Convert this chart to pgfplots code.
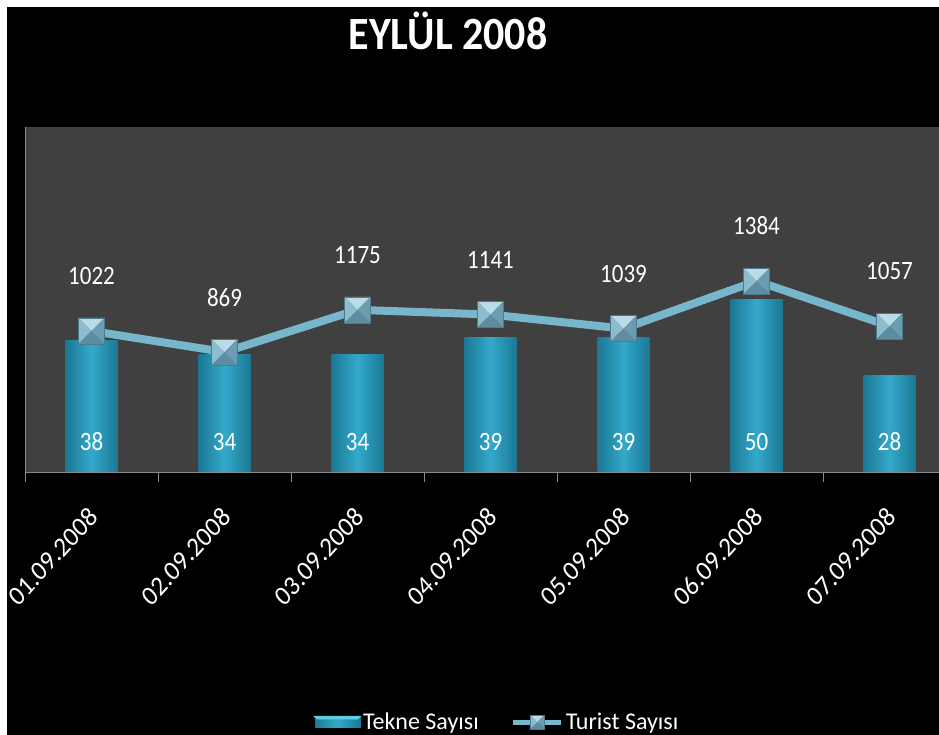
\documentclass[border=0pt]{standalone}
\usepackage{pgfplots}
\pgfplotsset{compat=1.18}
\usepackage{fontspec}
\setmainfont{Carlito}

\definecolor{plotbg}{HTML}{404040}
\definecolor{axisgray}{HTML}{8A8A8A}
\definecolor{barEdge}{HTML}{1B7894}
\definecolor{barMid}{HTML}{33A9CB}
\definecolor{barTop}{HTML}{5FCBE4}
\definecolor{lineC}{HTML}{78B6CB}
\definecolor{mkTop}{HTML}{B8DCE8}
\definecolor{mkLeft}{HTML}{8DBCCD}
\definecolor{mkRight}{HTML}{6C9CB0}
\definecolor{mkBottom}{HTML}{5E8DA2}
\definecolor{mkEdge}{HTML}{4E7A8C}

% square marker split into four shaded triangles
\pgfdeclareplotmark{bowsq}{%
  \pgfsetlinewidth{0.6pt}%
  \pgfpathmoveto{\pgfqpoint{-\pgfplotmarksize}{\pgfplotmarksize}}%
  \pgfpathlineto{\pgfqpoint{\pgfplotmarksize}{\pgfplotmarksize}}%
  \pgfpathlineto{\pgfpointorigin}\pgfpathclose
  \pgfsetfillcolor{mkTop}\pgfusepath{fill}%
  \pgfpathmoveto{\pgfqpoint{-\pgfplotmarksize}{\pgfplotmarksize}}%
  \pgfpathlineto{\pgfqpoint{-\pgfplotmarksize}{-\pgfplotmarksize}}%
  \pgfpathlineto{\pgfpointorigin}\pgfpathclose
  \pgfsetfillcolor{mkLeft}\pgfusepath{fill}%
  \pgfpathmoveto{\pgfqpoint{\pgfplotmarksize}{\pgfplotmarksize}}%
  \pgfpathlineto{\pgfqpoint{\pgfplotmarksize}{-\pgfplotmarksize}}%
  \pgfpathlineto{\pgfpointorigin}\pgfpathclose
  \pgfsetfillcolor{mkRight}\pgfusepath{fill}%
  \pgfpathmoveto{\pgfqpoint{-\pgfplotmarksize}{-\pgfplotmarksize}}%
  \pgfpathlineto{\pgfqpoint{\pgfplotmarksize}{-\pgfplotmarksize}}%
  \pgfpathlineto{\pgfpointorigin}\pgfpathclose
  \pgfsetfillcolor{mkBottom}\pgfusepath{fill}%
  \pgfsetstrokecolor{mkEdge}%
  \pgfpathrectangle{\pgfqpoint{-\pgfplotmarksize}{-\pgfplotmarksize}}{\pgfqpoint{2\pgfplotmarksize}{2\pgfplotmarksize}}%
  \pgfusepath{stroke}%
}

\pgfplotsset{
  boatbar/.style={ybar, bar width=52pt, draw=none,
    left color=barEdge, right color=barEdge, middle color=barMid,
    visualization depends on={rawy \as \rawy},
    nodes near coords,
    nodes near coords style={anchor=center, text=white,
      font=\fontsize{23}{26}\selectfont,
      yshift={(30-3.45*\rawy)*1pt}, yscale=1.15}},
}

\begin{document}
\begin{tikzpicture}[x=1pt,y=1pt]
\useasboundingbox (0,0) rectangle (939,735);
\fill[white] (0,0) rectangle (939,735);
\fill[black] (7,0) rectangle (939,728);
\clip (0,0) rectangle (939,735);

\node[text=white, font=\bfseries\fontsize{42}{50}\selectfont, yscale=1.1] at (448,704) {EYLÜL 2008};

% boats per day (bars), one bar per day so each gets its own shading
\begin{axis}[
  at={(25pt,263pt)}, anchor=south west,
  scale only axis, width=931pt, height=345pt,
  xmin=-0.5, xmax=6.5, ymin=0, ymax=100,
  axis background/.style={fill=plotbg},
  axis x line*=bottom, axis y line*=left,
  axis line style={draw=axisgray, line width=0.8pt},
  ytick=\empty,
  xtick={0,...,6},
  xticklabels={01.09.2008,02.09.2008,03.09.2008,04.09.2008,05.09.2008,06.09.2008,07.09.2008},
  major x tick style={draw=none},
  minor xtick={-0.5,0.5,...,6.5},
  tick align=outside, minor tick length=10pt,
  minor x tick style={draw=axisgray, line width=0.8pt},
  xticklabel style={anchor=east, text=white,
    font=\fontsize{25}{28}\selectfont, xshift=4pt, yshift=-33pt,
    yscale=1.1, rotate=45},
  /pgf/number format/.cd, 1000 sep={}, assume math mode=true,
]
\addplot[boatbar] coordinates {(0,38)};
\addplot[boatbar] coordinates {(1,34)};
\addplot[boatbar] coordinates {(2,34)};
\addplot[boatbar] coordinates {(3,39)};
\addplot[boatbar] coordinates {(4,39)};
\addplot[boatbar] coordinates {(5,50)};
\addplot[boatbar] coordinates {(6,28)};
\end{axis}

% tourists per day (line)
\begin{axis}[
  at={(25pt,263pt)}, anchor=south west,
  scale only axis, width=931pt, height=345pt,
  xmin=-0.5, xmax=6.5, ymin=0, ymax=2500,
  hide axis,
  /pgf/number format/.cd, 1000 sep={}, assume math mode=true,
  /pgfplots/.cd,
  legend style={at={(0.507,-0.725)}, anchor=center, draw=none, fill=none,
    text=white, font=\fontsize{24}{27}\selectfont,
    /tikz/every even column/.append style={column sep=30pt}},
  legend columns=2, legend cell align=left,
]
\addlegendimage{legend image code/.code={
  \shade[left color=barEdge, right color=barEdge, middle color=barMid]
    (0pt,-6pt) rectangle (47pt,6pt);
  \fill[barTop] (0pt,6pt) -- (47pt,6pt) -- (44pt,3pt) -- (3pt,3pt) -- cycle;}}
\addlegendentry{Tekne Sayısı}
\addplot[lineC, line width=8pt, mark=bowsq, mark size=13pt,
  nodes near coords,
  nodes near coords style={anchor=center, text=white,
    font=\fontsize{23}{26}\selectfont, yshift=55pt, yscale=1.15},
  legend image code/.code={
    \draw[lineC, line width=5pt] (0pt,0pt) -- (48pt,0pt);
    \begin{scope}[shift={(24pt,0pt)}, mark size=7pt]\pgfuseplotmark{bowsq}\end{scope}},
] coordinates {(0,1022) (1,869) (2,1175) (3,1141) (4,1039) (5,1384) (6,1057)};
\addlegendentry{Turist Sayısı}
\end{axis}
\end{tikzpicture}
\end{document}
